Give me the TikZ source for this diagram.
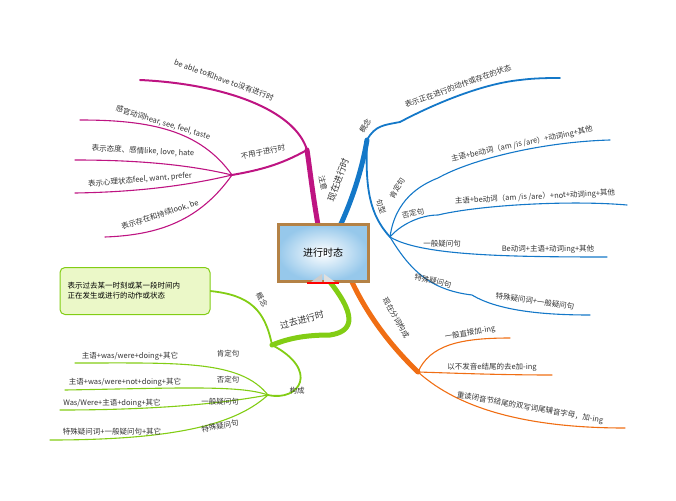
\documentclass[tikz,border=0pt]{standalone}
\usepackage{fontspec}
\setmainfont{Noto Sans CJK SC}
\begin{document}
\begin{tikzpicture}[x=1pt,y=-1pt,
  lbl/.style={font=\fontsize{7.5}{9}\selectfont, text=black!80, inner sep=0.5pt},
  mg/.style={draw={rgb,255:red,190;green,20;blue,130}, line cap=round},
  bl/.style={draw={rgb,255:red,20;green,120;blue,200}, line cap=round},
  og/.style={draw={rgb,255:red,240;green,110;blue,20}, line cap=round},
  gr/.style={draw={rgb,255:red,130;green,205;blue,20}, line cap=round},
  leaf/.style={line width=1.1pt}]
\useasboundingbox (0,0) rectangle (676,500);
% hub coordinates
\coordinate (mgA) at (318,225);
\coordinate (mgJ) at (307,150);
\coordinate (mgH) at (232,175);
\coordinate (blA) at (340,226);
\coordinate (blJ) at (367,140);
\coordinate (blH) at (390,237);
\coordinate (ogA) at (352,282);
\coordinate (ogH) at (418,372);
\coordinate (grA) at (330,282);
\coordinate (grJ) at (272,345);
\coordinate (grH) at (268,395);
% magenta
\draw[mg, line width=5pt] (mgA) .. controls (312,190) and (310,170) .. (mgJ);
\draw[mg, line width=2pt] (mgJ) .. controls (295,110) and (225,84) .. (140,80);
\draw[mg, line width=2pt] (mgJ) .. controls (280,165) and (260,170) .. (mgH);
\draw[mg, leaf] (mgH) .. controls (200,130) and (150,120) .. (80,120);
\draw[mg, leaf] (mgH) .. controls (190,165) and (140,160) .. (75,160);
\draw[mg, leaf] (mgH) .. controls (190,185) and (140,192) .. (75,193);
\draw[mg, leaf] (mgH) .. controls (200,220) and (160,235) .. (105,237);
\node[lbl, rotate=-78] (zy) at (323,183) {注意};
\node[lbl, rotate=-20] (t1) at (224,80) {be able to和have to没有进行时};
\node[lbl, rotate=12] (t2) at (263,152) {不用于进行时};
\node[lbl, rotate=-17] (t3) at (163,123) {感官动词hear, see, feel, taste};
\node[lbl, rotate=-3] (t4) at (143,151) {表示态度、感情like, love, hate};
\node[lbl, rotate=5] (t5) at (140,180) {表示心理状态feel, want, prefer};
\node[lbl, rotate=18] (t6) at (160,215) {表示存在和持续look, be};
% blue
\draw[bl, line width=5pt] (blA) .. controls (352,200) and (362,170) .. (blJ);
\draw[bl, line width=1.8pt] (blJ) .. controls (375,125) and (385,125) .. (400,122) .. controls (430,106) and (480,84) .. (520,80) .. controls (535,78) and (550,78) .. (560,78);
\draw[bl, line width=1.8pt] (blJ) .. controls (365,190) and (370,215) .. (blH);
\draw[bl, leaf] (blH) .. controls (395,200) and (420,185) .. (438,178) .. controls (470,160) and (540,142) .. (610,140);
\draw[bl, leaf] (blH) .. controls (400,225) and (420,215) .. (438,215) .. controls (480,205) and (570,200) .. (627,205);
\draw[bl, leaf] (blH) .. controls (420,255) and (500,257) .. (607,257);
\draw[bl, leaf] (blH) .. controls (410,270) and (430,290) .. (472,295) .. controls (500,312) and (550,315) .. (590,315);
\node[lbl, rotate=70, font=\fontsize{9}{10}\selectfont] (xz) at (338,180) {现在进行时};
\node[lbl, rotate=60] (gn1) at (365,126) {概念};
\node[lbl, rotate=-72] (jx) at (381,207) {句型};
\node[lbl, rotate=60] (kd1) at (397,188) {肯定句};
\node[lbl, rotate=20] (b1) at (458,86) {表示正在进行的动作或存在的状态};
\node[lbl, rotate=12] (b2) at (522,144) {主语+be动词（am /is /are）+动词ing+其他};
\node[lbl, rotate=12] (fd1) at (413,213) {否定句};
\node[lbl, rotate=3] (b3) at (535,197) {主语+be动词（am /is /are）+not+动词ing+其他};
\node[lbl] (yb1) at (442,244) {一般疑问句};
\node[lbl] (b4) at (548,249) {Be动词+主语+动词ing+其他};
\node[lbl, rotate=-12] (ts1) at (433,281) {特殊疑问句};
\node[lbl, rotate=-8] (b5) at (535,301) {特殊疑问词+一般疑问句};
% orange
\draw[og, line width=5pt] (ogA) .. controls (370,320) and (395,350) .. (ogH);
\draw[og, leaf] (ogH) .. controls (430,345) and (460,338) .. (510,338);
\draw[og, leaf] (ogH) .. controls (450,373) and (500,375) .. (552,375);
\draw[og, leaf] (ogH) .. controls (460,410) and (530,428) .. (625,428);
\node[lbl, rotate=-60] (xf) at (396,318) {现在分词构成};
\node[lbl, rotate=10] (o1) at (470,333) {一般直接加-ing};
\node[lbl] (o2) at (492,367) {以不发音e结尾的去e加-ing};
\node[lbl, rotate=-10] (o3) at (530,408) {重读闭音节结尾的双写词尾辅音字母，加-ing};
% green
\draw[gr, line width=5pt] (grA) .. controls (360,320) and (350,332) .. (330,335) .. controls (300,335) and (285,340) .. (grJ);
\draw[gr, line width=1.8pt] (grJ) .. controls (265,310) and (250,295) .. (210,291);
\draw[gr, line width=1.8pt] (grJ) .. controls (320,370) and (300,402) .. (grH);
\draw[gr, leaf] (grH) .. controls (240,360) and (180,363) .. (75,363);
\draw[gr, leaf] (grH) .. controls (240,385) and (180,388) .. (65,390);
\draw[gr, leaf] (grH) .. controls (240,400) and (180,410) .. (60,410);
\draw[gr, leaf] (grH) .. controls (240,420) and (190,440) .. (50,440);
\node[lbl, rotate=15, font=\fontsize{9}{10}\selectfont] (gq) at (302,320) {过去进行时};
\node[lbl, rotate=-60] (gn2) at (262,300) {概念};
\node[lbl] (gc) at (297,391) {构成};
\node[draw={rgb,255:red,130;green,205;blue,20}, line width=1pt, fill={rgb,255:red,235;green,248;blue,200}, rounded corners=5pt, minimum width=150pt, minimum height=47pt, align=left, font=\fontsize{7.5}{10}\selectfont, text width=135pt] (box) at (135,291) {表示过去某一时刻或某一段时间内\\正在发生或进行的动作或状态};
\node[lbl] (gk) at (228,354) {肯定句};
\node[lbl] (g1) at (130,356) {主语+was/were+doing+其它};
\node[lbl] (gf) at (228,380) {否定句};
\node[lbl] (g2) at (125,382) {主语+was/were+not+doing+其它};
\node[lbl] (gy) at (220,402) {一般疑问句};
\node[lbl] (g3) at (112,403) {Was/Were+主语+doing+其它};
\node[lbl, rotate=10] (gt) at (220,426) {特殊疑问句};
\node[lbl] (g4) at (112,432) {特殊疑问词+一般疑问句+其它};
% central board
\node[draw={rgb,255:red,180;green,130;blue,70}, line width=3pt, inner color=white, outer color={rgb,255:red,150;green,200;blue,235}, minimum width=90pt, minimum height=57pt, font=\fontsize{10}{12}\selectfont] (center) at (323,253) {进行时态};
\fill[gray!40] (311,282) -- (322,274) -- (322,282) -- cycle;
\fill[gray!25] (335,282) -- (324,274) -- (324,282) -- cycle;
\draw[red, line width=1.5pt] (307,283) -- (339,283);
\end{tikzpicture}
\end{document}
